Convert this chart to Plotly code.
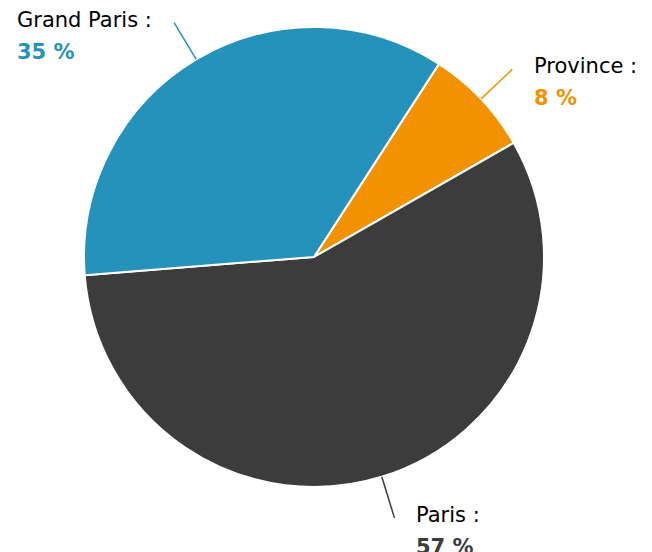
import math
import plotly.graph_objects as go

# parts of the total, clockwise from the first slice
labels = ["Province", "Paris", "Grand Paris"]
values = [7.6, 57.0, 35.4]
pct_labels = ["8 %", "57 %", "35 %"]
colors = ["#f39200", "#3c3c3c", "#2592bb"]

W, H = 652, 552
ROT = 32.9          # start angle of first slice (deg, clockwise from 12 o'clock)
R = 230             # pie radius in px
R_OUT = 273         # end of leader line in px
GAP = 20

fig = go.Figure()
fig.add_trace(go.Pie(
    labels=labels, values=values, sort=False, direction="clockwise",
    rotation=ROT, textinfo="none", hoverinfo="label+percent",
    marker=dict(colors=colors, line=dict(color="white", width=2)),
    showlegend=False,
))

shapes = []
annotations = []
total = sum(values)
start = ROT
for lab, val, pct, col in zip(labels, values, pct_labels, colors):
    span = val / total * 360
    mid = math.radians(start + span / 2)
    start += span
    sx, sy = R * math.sin(mid), R * math.cos(mid)
    ex, ey = R_OUT * math.sin(mid), R_OUT * math.cos(mid)
    shapes.append(dict(type="line", xref="paper", yref="paper",
                       xsizemode="pixel", ysizemode="pixel",
                       xanchor=0.5, yanchor=0.5,
                       x0=sx, y0=sy, x1=ex, y1=ey,
                       line=dict(color=col, width=1.5)))
    right = math.sin(mid) >= 0
    txt = ("<span style='font-size:21px'>%s :</span><br>"
           "<span style='font-size:21px;color:%s'><b>%s</b></span>" % (lab, col, pct))
    annotations.append(dict(xref="paper", yref="paper", x=0.5, y=0.5,
                            xshift=ex + GAP if right else ex - GAP,
                            yshift=ey + 17,
                            xanchor="left" if right else "right",
                            yanchor="top", align="left", showarrow=False,
                            text=txt, font=dict(size=24.5, color="black")))

# the page adds an 8px body margin, so the plot area is offset to compensate
fig.update_layout(
    width=W, height=H,
    margin=dict(l=0, r=40, t=19, b=73),
    paper_bgcolor="white", plot_bgcolor="white",
    font=dict(family="DejaVu Sans", color="black"),
    shapes=shapes, annotations=annotations,
)

fig.write_html("out.html")
